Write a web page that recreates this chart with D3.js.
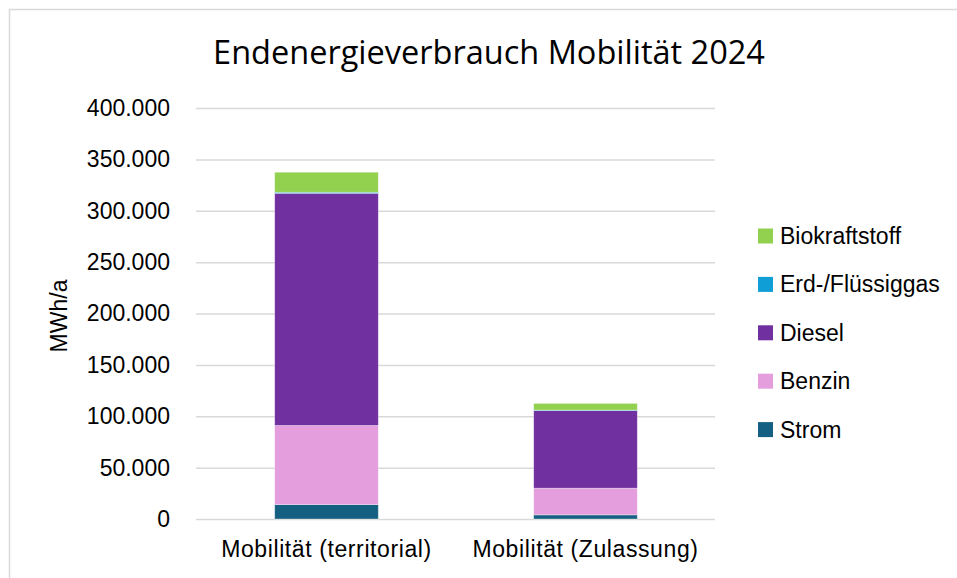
<!DOCTYPE html>
<html>
<head>
<meta charset="utf-8">
<script src="https://cdn.jsdelivr.net/npm/d3@7"></script>
<style>
    body { margin: 0; background: #fff; }
    svg { display: block; }
</style>
</head>
<body>
<div class="chart"></div>
<script>
const categories = ['Mobilität (territorial)', 'Mobilität (Zulassung)'];
const seriesNames = ['Strom', 'Benzin', 'Diesel', 'Erd-/Flüssiggas', 'Biokraftstoff'];
const strom = [14000, 4000];
const benzin = [77000, 26000];
const diesel = [226000, 75500];
const gas = [1000, 500];
const bio = [19500, 6500];
const yTicks = [0, 50000, 100000, 150000, 200000, 250000, 300000, 350000, 400000];
const colors = ['#156082', '#e59edd', '#7030a0', '#0f9ed5', '#92d050'];

const width = 957;
const height = 578;
const margin = { top: 108, right: 242, bottom: 59, left: 197 };

const de = d3.formatLocale({ decimal: ',', thousands: '.', grouping: [3], currency: ['', ' €'] });
const fmt = de.format(',');

// one row per category, one column per series
const rows = categories.map((cat, i) => ({
    cat,
    'Strom': strom[i],
    'Benzin': benzin[i],
    'Diesel': diesel[i],
    'Erd-/Flüssiggas': gas[i],
    'Biokraftstoff': bio[i]
}));
const stacked = d3.stack().keys(seriesNames)(rows);

const svg = d3.select('.chart')
    .append('svg')
    .attr('width', width)
    .attr('height', height);

// chart border (runs off the right and bottom edge)
svg.append('rect')
    .attr('x', 9.5)
    .attr('y', 9.5)
    .attr('width', width)
    .attr('height', height)
    .attr('fill', 'none')
    .attr('stroke', '#d9d9d9')
    .attr('stroke-width', 1.5);

const x = d3.scaleBand()
    .domain(categories)
    .range([margin.left, width - margin.right])
    .paddingInner(0.6)
    .paddingOuter(0.3);

const y = d3.scaleLinear()
    .domain([0, 400000])
    .range([height - margin.bottom, margin.top]);

const yAxis = svg.append('g')
    .attr('transform', `translate(${margin.left - 1},0)`)
    .call(d3.axisLeft(y)
        .tickValues(yTicks)
        .tickFormat(fmt)
        .tickSize(-(width - margin.left - margin.right + 1))
        .tickPadding(26));
yAxis.select('.domain').remove();
yAxis.selectAll('line')
    .attr('stroke', '#d9d9d9')
    .attr('stroke-width', 1.5);
yAxis.selectAll('text')
    .attr('fill', '#000')
    .style('font-size', '23px')
    .style('font-family', 'Liberation Sans, Arial, sans-serif');

const xAxis = svg.append('g')
    .attr('transform', `translate(0,${height - margin.bottom})`)
    .call(d3.axisBottom(x).tickSize(0).tickPadding(22));
xAxis.select('.domain').remove();
xAxis.selectAll('text')
    .attr('fill', '#000')
    .style('font-size', '23px')
    .style('letter-spacing', '0.6px')
    .style('font-family', 'Liberation Sans, Arial, sans-serif');

svg.append('g')
    .selectAll('g')
    .data(stacked)
    .enter()
    .append('g')
    .attr('fill', (d, i) => colors[i])
    .selectAll('rect')
    .data(d => d)
    .enter()
    .append('rect')
    .attr('x', d => x(d.data.cat))
    .attr('width', x.bandwidth())
    .attr('y', d => y(d[1]))
    .attr('height', d => y(d[0]) - y(d[1]))
    .attr('stroke', '#fff')
    .attr('stroke-opacity', 0.45)
    .attr('stroke-width', 0.75);

svg.append('text')
    .attr('x', 489)
    .attr('y', 64)
    .attr('text-anchor', 'middle')
    .attr('fill', '#000')
    .style('font-size', '32.5px')
    .style('font-family', 'Open Sans, sans-serif')
    .text('Endenergieverbrauch Mobilität 2024');

svg.append('text')
    .attr('transform', 'translate(67,316) rotate(-90)')
    .attr('text-anchor', 'middle')
    .attr('fill', '#000')
    .style('font-size', '23px')
    .style('font-family', 'Liberation Sans, Arial, sans-serif')
    .text('MWh/a');

// legend, top entry is the top of the stack
const legendItems = seriesNames.slice().reverse();
const legend = svg.append('g')
    .selectAll('g')
    .data(legendItems)
    .enter()
    .append('g')
    .attr('transform', (d, i) => `translate(758,${236 + i * 48.4})`);

legend.append('rect')
    .attr('x', 0)
    .attr('y', -7.5)
    .attr('width', 15)
    .attr('height', 15)
    .attr('fill', d => colors[seriesNames.indexOf(d)]);

legend.append('text')
    .attr('x', 22)
    .attr('dy', '0.35em')
    .attr('fill', '#000')
    .style('font-size', '23px')
    .style('font-family', 'Liberation Sans, Arial, sans-serif')
    .text(d => d);
</script>
</body>
</html>
